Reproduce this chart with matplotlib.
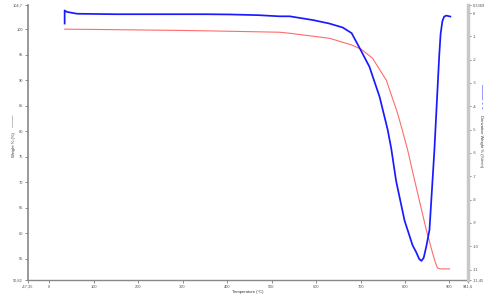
import matplotlib
matplotlib.use("Agg")
import matplotlib.pyplot as plt

plt.rcParams["font.family"] = ["Liberation Sans", "DejaVu Sans"]

# Weight % (left axis)
temp_w = [35, 100, 200, 300, 400, 518, 541, 631, 680, 702, 727, 758, 783, 794, 806, 813, 832, 848, 862, 868, 873, 880, 900]
weight = [100.0, 99.95, 99.85, 99.75, 99.6, 99.4, 99.2, 98.2, 96.9, 96.05, 94.3, 90.0, 83.6, 80.2, 76.3, 73.6, 66.5, 60.6, 56.1, 54.3, 53.2, 53.0, 53.0]

# Derivative weight % (right axis)
temp_d = [35, 35, 40, 63, 150, 250, 350, 406, 470, 518, 541, 593, 630, 660, 680, 698, 720, 743, 761, 769, 780, 799,
          817, 825, 832, 837, 842, 848, 855, 866, 877, 880, 884, 888, 893, 902]
deriv = [-0.45, 0.11, 0.05, -0.03, -0.05, -0.05, -0.05, -0.06, -0.09, -0.14, -0.14, -0.3, -0.45, -0.62, -0.86, -1.5,
         -2.3, -3.6, -5.0, -5.8, -7.2, -8.9, -9.96, -10.25, -10.55, -10.63, -10.5, -10.0, -9.3, -5.9, -1.8, -0.9,
         -0.35, -0.15, -0.11, -0.15]

x_ticks = [-47.35, 0, 100, 200, 300, 400, 500, 600, 700, 800, 900, 941.6]
x_labels = ["-47,35", "0", "100", "200", "300", "400", "500", "600", "700", "800", "900", "941,6"]
y_ticks = [50.82, 55, 60, 65, 70, 75, 80, 85, 90, 95, 100, 104.7]
y_labels = ["50,82", "55", "60", "65", "70", "75", "80", "85", "90", "95", "100", "104,7"]
d_ticks = [-11.45, -11, -10, -9, -8, -7, -6, -5, -4, -3, -2, -1, 0, 0.3369]
d_labels = ["-11,45", "-11", "-10", "-9", "-8", "-7", "-6", "-5", "-4", "-3", "-2", "-1", "0", "0,3369"]

fig = plt.figure(figsize=(5, 2.97), dpi=100)
ax = fig.add_axes([0.056, 0.0572, 0.88, 0.9253])
ax2 = ax.twinx()

ax.plot(temp_w, weight, color="#ff6b6b", lw=0.8)
ax2.plot(temp_d, deriv, color="#1a1aff", lw=1.25)

ax.set_xlim(-47.35, 941.6)
ax.set_ylim(50.82, 104.7)
ax2.set_ylim(-11.45, 0.3369)

tc = "#555555"
fs = 2.9
ax.set_xticks(x_ticks)
ax.set_xticklabels(x_labels, fontsize=fs, color=tc)
ax.set_yticks(y_ticks)
ax.set_yticklabels(y_labels, fontsize=fs, color=tc)
ax2.set_yticks(d_ticks)
ax2.set_yticklabels(d_labels, fontsize=fs, color=tc)

ax.tick_params(axis="both", length=2, width=0.6, color="#777777", pad=1.5)
ax2.tick_params(axis="y", length=2, width=0.6, color="#777777", pad=1.5)

for a in (ax, ax2):
    a.spines["top"].set_visible(False)
ax.spines["left"].set_color("#888888")
ax.spines["left"].set_linewidth(1.2)
ax.spines["bottom"].set_color("#888888")
ax.spines["bottom"].set_linewidth(1.0)
ax.spines["right"].set_visible(False)
ax2.spines["left"].set_visible(False)
ax2.spines["bottom"].set_visible(False)
ax2.spines["right"].set_color("#c8c8c8")
ax2.spines["right"].set_linewidth(2.5)

ax.set_xlabel("Temperature (°C)", fontsize=3.0, color="#333333", labelpad=0.5)

fig.text(0.028, 0.513, "Weight % (%)", fontsize=3.0, color="#333333", rotation=90, ha="center", va="center")
fig.text(0.028, 0.594, "——", fontsize=4.5, color="#555555", rotation=90, ha="center", va="center")
fig.text(0.962, 0.525, "Derivative Weight % (%/min)", fontsize=3.0, color="#333333", rotation=270, ha="center", va="center")
fig.text(0.962, 0.675, "—— - -", color="#3333ff", fontsize=5.5, rotation=270, ha="center", va="center")

fig.savefig("out.png", dpi=100)
